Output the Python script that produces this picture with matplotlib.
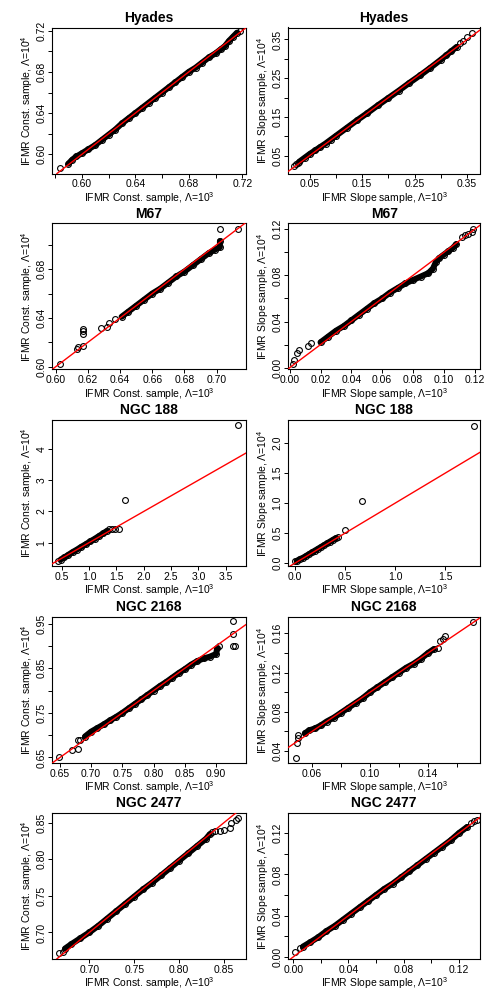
import matplotlib
matplotlib.use("Agg")
import matplotlib.pyplot as plt

plt.rcParams['font.family'] = ['Liberation Sans', 'DejaVu Sans']
plt.rcParams['mathtext.fontset'] = 'custom'
plt.rcParams['mathtext.rm'] = 'Liberation Sans'
plt.rcParams['axes.linewidth'] = 0.8

clusters = ['Hyades', 'M67', 'NGC 188', 'NGC 2168', 'NGC 2477']

# --- Hyades, IFMR const ---
hyc_x = [0.590, 0.593, 0.596, 0.600, 0.605, 0.610, 0.615, 0.620, 0.625, 0.630, 0.635, 0.640, 0.645, 0.650, 0.655,
         0.660, 0.665, 0.670, 0.675, 0.680, 0.685, 0.690, 0.695, 0.700, 0.704, 0.707, 0.710, 0.713, 0.716]
hyc_y = [0.591, 0.595, 0.598, 0.601, 0.605, 0.609, 0.614, 0.619, 0.624, 0.630, 0.635, 0.640, 0.645, 0.650, 0.655,
         0.660, 0.665, 0.670, 0.675, 0.680, 0.684, 0.689, 0.694, 0.698, 0.702, 0.705, 0.710, 0.714, 0.718]
hyc_ox = [0.584, 0.718]
hyc_oy = [0.587, 0.720]

# --- Hyades, IFMR slope ---
hys_x = [0.030, 0.040, 0.050, 0.060, 0.070, 0.080, 0.090, 0.100, 0.120, 0.140, 0.160, 0.180, 0.200, 0.220, 0.240,
         0.260, 0.280, 0.300, 0.310, 0.320, 0.330]
hys_y = [0.034, 0.044, 0.054, 0.063, 0.072, 0.081, 0.091, 0.101, 0.121, 0.141, 0.160, 0.180, 0.199, 0.218, 0.238,
         0.257, 0.277, 0.298, 0.309, 0.320, 0.331]
hys_ox = [0.020, 0.024, 0.027, 0.336, 0.342, 0.350, 0.360]
hys_oy = [0.024, 0.028, 0.030, 0.340, 0.347, 0.357, 0.366]

# --- M67, IFMR const ---
m67c_x = [0.641, 0.645, 0.650, 0.655, 0.660, 0.665, 0.670, 0.675, 0.680, 0.685, 0.690, 0.695, 0.699, 0.702, 0.702]
m67c_y = [0.641, 0.645, 0.650, 0.655, 0.660, 0.664, 0.669, 0.674, 0.678, 0.683, 0.688, 0.693, 0.696, 0.698, 0.703]
m67c_ox = [0.6025, 0.6135, 0.614, 0.617, 0.617, 0.617, 0.617, 0.628, 0.632, 0.633, 0.637, 0.702, 0.713]
m67c_oy = [0.602, 0.6145, 0.616, 0.617, 0.627, 0.629, 0.631, 0.632, 0.633, 0.636, 0.639, 0.713, 0.713]

# --- M67, IFMR slope ---
m67s_x = [0.020, 0.025, 0.030, 0.035, 0.040, 0.045, 0.050, 0.055, 0.060, 0.065, 0.070, 0.075, 0.080, 0.085, 0.090,
          0.093, 0.095, 0.097, 0.100, 0.103, 0.106, 0.108]
m67s_y = [0.022, 0.027, 0.032, 0.036, 0.041, 0.046, 0.051, 0.056, 0.060, 0.065, 0.069, 0.073, 0.076, 0.079, 0.082,
          0.086, 0.092, 0.095, 0.098, 0.101, 0.104, 0.107]
m67s_ox = [0.002, 0.003, 0.005, 0.006, 0.012, 0.014, 0.112, 0.114, 0.116, 0.118, 0.119]
m67s_oy = [0.003, 0.007, 0.013, 0.015, 0.019, 0.021, 0.113, 0.115, 0.116, 0.118, 0.120]

# --- NGC 188, IFMR const ---
n188c_x = [0.48, 0.55, 0.62, 0.70, 0.78, 0.86, 0.94, 1.02, 1.10, 1.18, 1.26, 1.33]
n188c_y = [0.46, 0.53, 0.61, 0.70, 0.78, 0.87, 0.95, 1.04, 1.12, 1.21, 1.30, 1.38]
n188c_ox = [0.44, 1.37, 1.42, 1.47, 1.55, 1.66, 3.72]
n188c_oy = [0.42, 1.43, 1.43, 1.43, 1.43, 2.36, 4.77]

# --- NGC 188, IFMR slope ---
n188s_x = [0.02, 0.05, 0.08, 0.11, 0.14, 0.17, 0.20, 0.23, 0.26, 0.29, 0.32, 0.35, 0.38, 0.41]
n188s_y = [0.04, 0.07, 0.09, 0.12, 0.15, 0.18, 0.21, 0.24, 0.27, 0.30, 0.33, 0.36, 0.39, 0.42]
n188s_ox = [0.00, 0.43, 0.50, 0.67, 1.79]
n188s_oy = [0.03, 0.43, 0.56, 1.04, 2.29]

# --- NGC 2168, IFMR const ---
n2168c_x = [0.690, 0.700, 0.710, 0.720, 0.730, 0.740, 0.750, 0.760, 0.770, 0.780, 0.790, 0.800, 0.810, 0.820,
            0.830, 0.840, 0.850, 0.860, 0.870, 0.880, 0.890, 0.900, 0.902]
n2168c_y = [0.697, 0.708, 0.716, 0.724, 0.733, 0.741, 0.750, 0.760, 0.770, 0.780, 0.790, 0.800, 0.810, 0.819,
            0.829, 0.839, 0.848, 0.858, 0.866, 0.872, 0.876, 0.882, 0.895]
n2168c_ox = [0.649, 0.669, 0.679, 0.679, 0.682, 0.905, 0.928, 0.931, 0.928, 0.928]
n2168c_oy = [0.650, 0.667, 0.669, 0.689, 0.690, 0.900, 0.900, 0.900, 0.926, 0.956]

# --- NGC 2168, IFMR slope ---
n2168s_x = [0.055, 0.058, 0.062, 0.066, 0.070, 0.075, 0.080, 0.085, 0.090, 0.095, 0.100, 0.105, 0.110, 0.115,
            0.120, 0.125, 0.130, 0.135, 0.140, 0.144]
n2168s_y = [0.058, 0.061, 0.063, 0.066, 0.070, 0.074, 0.079, 0.084, 0.089, 0.094, 0.100, 0.105, 0.110, 0.115,
            0.120, 0.125, 0.129, 0.134, 0.140, 0.144]
n2168s_ox = [0.0486, 0.0493, 0.050, 0.050, 0.147, 0.148, 0.150, 0.152, 0.171]
n2168s_oy = [0.033, 0.048, 0.053, 0.056, 0.145, 0.152, 0.154, 0.157, 0.172]

# --- NGC 2477, IFMR const ---
n2477c_x = [0.673, 0.680, 0.690, 0.700, 0.710, 0.720, 0.730, 0.740, 0.750, 0.760, 0.770, 0.780, 0.790, 0.800,
            0.810, 0.820, 0.830, 0.834]
n2477c_y = [0.678, 0.684, 0.692, 0.700, 0.709, 0.719, 0.729, 0.739, 0.749, 0.759, 0.768, 0.778, 0.788, 0.798,
            0.808, 0.818, 0.828, 0.834]
n2477c_ox = [0.6667, 0.671, 0.836, 0.840, 0.845, 0.850, 0.856, 0.858, 0.863, 0.865]
n2477c_oy = [0.6716, 0.673, 0.837, 0.839, 0.839, 0.840, 0.843, 0.849, 0.854, 0.856]

# --- NGC 2477, IFMR slope ---
n2477s_x = [0.007, 0.012, 0.018, 0.024, 0.030, 0.036, 0.042, 0.048, 0.054, 0.060, 0.066, 0.072, 0.078, 0.084,
            0.090, 0.096, 0.102, 0.108, 0.114, 0.120, 0.126]
n2477s_y = [0.010, 0.014, 0.019, 0.025, 0.030, 0.036, 0.042, 0.048, 0.054, 0.060, 0.066, 0.071, 0.077, 0.083,
            0.089, 0.095, 0.101, 0.107, 0.113, 0.120, 0.126]
n2477s_ox = [0.001, 0.005, 0.129, 0.131, 0.133]
n2477s_oy = [0.005, 0.009, 0.130, 0.132, 0.133]

# (dense x, dense y, sparse x, sparse y, xlim, ylim, x ticks, x labels, y ticks, y labels)
panels = [
    [(hyc_x, hyc_y, hyc_ox, hyc_oy, (0.578, 0.7225), (0.5815, 0.723),
      [0.58, 0.60, 0.62, 0.64, 0.66, 0.68, 0.70, 0.72], ['0.60', '0.64', '0.68', '0.72'],
      [0.60, 0.62, 0.64, 0.66, 0.68, 0.70, 0.72], ['0.60', '0.64', '0.68', '0.72']),
     (hys_x, hys_y, hys_ox, hys_oy, (0.0085, 0.375), (0.0035, 0.381),
      [0.05, 0.10, 0.15, 0.20, 0.25, 0.30, 0.35], ['0.05', '0.15', '0.25', '0.35'],
      [0.05, 0.10, 0.15, 0.20, 0.25, 0.30, 0.35], ['0.05', '0.15', '0.25', '0.35'])],
    [(m67c_x, m67c_y, m67c_ox, m67c_oy, (0.598, 0.718), (0.598, 0.7175),
      [0.60, 0.62, 0.64, 0.66, 0.68, 0.70], ['0.60', '0.62', '0.64', '0.66', '0.68', '0.70'],
      [0.60, 0.62, 0.64, 0.66, 0.68, 0.70], ['0.60', '0.64', '0.68']),
     (m67s_x, m67s_y, m67s_ox, m67s_oy, (-0.0011, 0.1237), (-0.0014, 0.1252),
      [0.00, 0.02, 0.04, 0.06, 0.08, 0.10, 0.12], ['0.00', '0.02', '0.04', '0.06', '0.08', '0.10', '0.12'],
      [0.00, 0.02, 0.04, 0.06, 0.08, 0.10, 0.12], ['0.00', '0.04', '0.08', '0.12'])],
    [(n188c_x, n188c_y, n188c_ox, n188c_oy, (0.328, 3.866), (0.253, 4.93),
      [0.5, 1.0, 1.5, 2.0, 2.5, 3.0, 3.5], ['0.5', '1.0', '1.5', '2.0', '2.5', '3.0', '3.5'],
      [1, 2, 3, 4], ['1', '2', '3', '4']),
     (n188s_x, n188s_y, n188s_ox, n188s_oy, (-0.067, 1.849), (-0.045, 2.383),
      [0.0, 0.5, 1.0, 1.5], ['0.0', '0.5', '1.0', '1.5'],
      [0.0, 0.5, 1.0, 1.5, 2.0], ['0.0', '0.5', '1.0', '1.5', '2.0'])],
    [(n2168c_x, n2168c_y, n2168c_ox, n2168c_oy, (0.6377, 0.9476), (0.6376, 0.965),
      [0.65, 0.70, 0.75, 0.80, 0.85, 0.90], ['0.65', '0.70', '0.75', '0.80', '0.85', '0.90'],
      [0.65, 0.70, 0.75, 0.80, 0.85, 0.90, 0.95], ['0.65', '0.75', '0.85', '0.95']),
     (n2168s_x, n2168s_y, n2168s_ox, n2168s_oy, (0.0434, 0.176), (0.0277, 0.1767),
      [0.06, 0.08, 0.10, 0.12, 0.14, 0.16], ['0.06', '0.10', '0.14'],
      [0.04, 0.06, 0.08, 0.10, 0.12, 0.14, 0.16], ['0.04', '0.08', '0.12', '0.16'])],
    [(n2477c_x, n2477c_y, n2477c_ox, n2477c_oy, (0.6589, 0.874), (0.6638, 0.863),
      [0.70, 0.75, 0.80, 0.85], ['0.70', '0.75', '0.80', '0.85'],
      [0.70, 0.75, 0.80, 0.85], ['0.70', '0.75', '0.80', '0.85']),
     (n2477s_x, n2477s_y, n2477s_ox, n2477s_oy, (-0.0038, 0.1355), (-0.002, 0.1395),
      [0.00, 0.02, 0.04, 0.06, 0.08, 0.10, 0.12], ['0.00', '0.04', '0.08', '0.12'],
      [0.00, 0.02, 0.04, 0.06, 0.08, 0.10, 0.12], ['0.00', '0.04', '0.08', '0.12'])],
]

col_names = ['Const.', 'Slope']

W, H = 498, 997
fig = plt.figure(figsize=(W / 100, H / 100), dpi=100)

col_left = [52.3, 288.0]
col_width = [193.4, 192.3]
row_top = [27.5, 223.3, 420.0, 617.0, 813.0]
row_h = 146.0


def show_ticks(axis, ticks, labels):
    # R drops labels that would overlap: keep ticks, blank the skipped ones
    axis.set_ticks(ticks)
    axis.set_ticklabels([next((s for s in labels if abs(float(s) - t) < 1e-9), '') for t in ticks])


for r, name in enumerate(clusters):
    for c in range(2):
        dx, dy, ox, oy, xl, yl, xt, xlab, yt, ylab = panels[r][c]
        ax = fig.add_axes([col_left[c] / W, 1 - (row_top[r] + row_h) / H, col_width[c] / W, row_h / H])
        ax.plot(dx, dy, '-', color='black', lw=4.3, solid_capstyle='round', solid_joinstyle='round', zorder=2)
        ax.plot(dx + ox, dy + oy, 'o', mfc='none', mec='black', ms=4.2, mew=0.8, ls='none', zorder=3)
        ax.axline((0, 0), slope=1, color='red', lw=1.0, zorder=4)
        ax.set_xlim(*xl)
        ax.set_ylim(*yl)
        show_ticks(ax.xaxis, xt, xlab)
        show_ticks(ax.yaxis, yt, ylab)
        ax.tick_params(direction='out', length=3, width=0.7, pad=1.2, labelsize=7.5)
        for t in ax.get_yticklabels():
            t.set_rotation(90)
            t.set_va('center')
        ax.set_title(name, fontweight='bold', fontsize=10, pad=4)
        ax.set_xlabel('IFMR %s sample, Λ=10$^{3}$' % col_names[c], fontsize=7.5, labelpad=0.5)
        ax.set_ylabel('IFMR %s sample, Λ=10$^{4}$' % col_names[c], fontsize=7.5, labelpad=1)

fig.savefig('out.png', dpi=100)
